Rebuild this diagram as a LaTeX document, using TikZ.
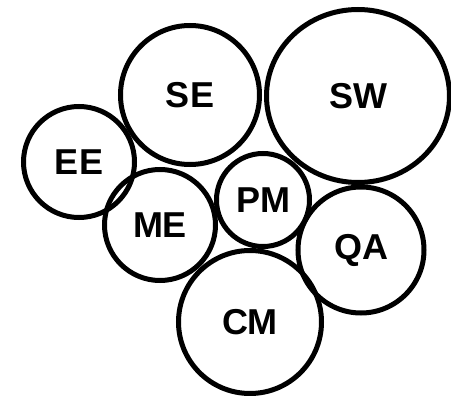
\documentclass[tikz,border=0pt]{standalone}
\usepackage{fontspec}
\setmainfont{Liberation Sans}
\usepackage{tikz}
\usetikzlibrary{shapes.geometric}

\begin{document}
\begin{tikzpicture}[x=1pt, y=-1pt,
  area/.style={draw=black, line width=5pt, circle, inner sep=0pt,
    font=\fontsize{36}{40}\selectfont\bfseries}]
\useasboundingbox (0,0) rectangle (451,396);
\fill[white] (0,0) rectangle (451,396);
% knowledge areas, sized by weight
\node[area, minimum size=139pt] (se) at (190,95) {SE};
\node[area, ellipse, minimum width=183pt, minimum height=173pt] (sw) at (358,96) {SW};
\node[area, minimum size=111pt] (ee) at (79,162) {EE};
\node[area, minimum size=111pt] (me) at (160,225) {ME};
\node[area, minimum size=93pt] (pm) at (263,200) {PM};
\node[area, minimum size=126pt] (qa) at (361,250) {QA};
\node[area, minimum size=143pt] (cm) at (250,322) {CM};
\end{tikzpicture}
\end{document}
